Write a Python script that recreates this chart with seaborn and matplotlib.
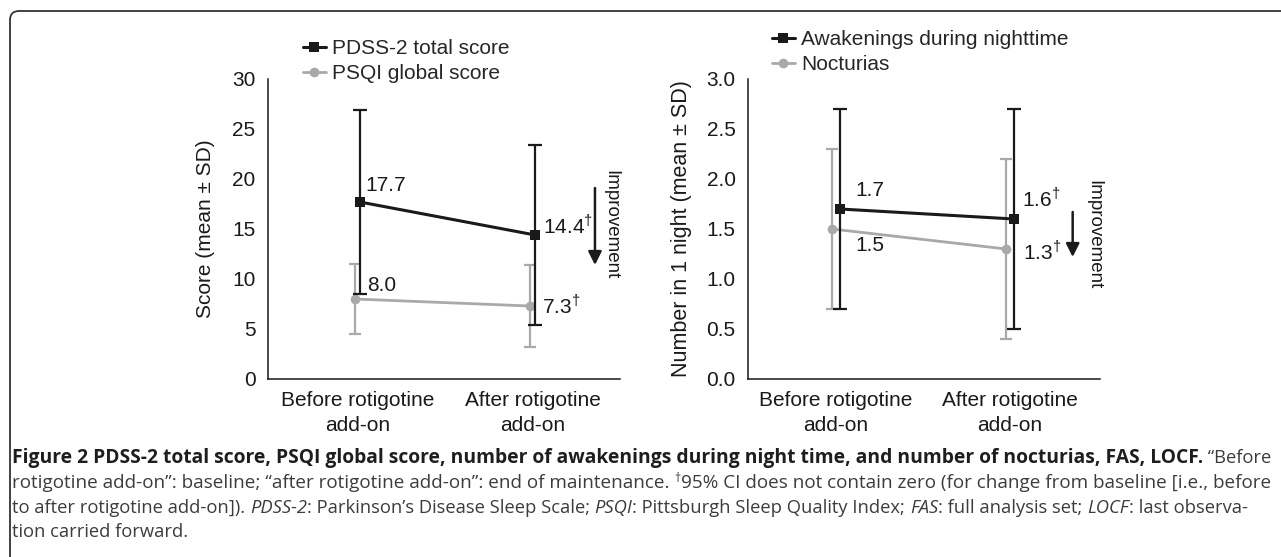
import numpy as np
import pandas as pd
import seaborn as sns
import matplotlib.pyplot as plt
from matplotlib.path import Path
from matplotlib.patches import PathPatch
from matplotlib.lines import Line2D

#----------------------------------------------------------
# Data
#----------------------------------------------------------
timepoints = ["Before rotigotine\nadd-on", "After rotigotine\nadd-on"]

pdss_mean = [17.7, 14.4]
pdss_sd = [9.2, 9.0]
psqi_mean = [8.0, 7.3]
psqi_sd = [3.5, 4.1]

awake_mean = [1.7, 1.6]
awake_sd = [1.0, 1.1]
noct_mean = [1.5, 1.3]
noct_sd = [0.8, 0.9]

left_labels = ["17.7", "14.4$^{\\dagger}$", "8.0", "7.3$^{\\dagger}$"]
right_labels = ["1.7", "1.6$^{\\dagger}$", "1.5", "1.3$^{\\dagger}$"]

BLACK = "#1a1a1a"
GREY = "#a9a9a9"

W, H = 1281, 557


def px(x, y):
    # figure pixel (from top-left) -> figure fraction
    return x / W, 1 - y / H


def draw_panel(ax, black_mean, black_sd, grey_mean, grey_sd, names, off):
    df = pd.DataFrame({
        "x": [i + off for i in range(2)] + [i - off for i in range(2)],
        "value": black_mean + grey_mean,
        "series": [names[0]] * 2 + [names[1]] * 2,
    })
    # grey series first so the black one sits on top
    sns.lineplot(data=df[df.series == names[1]], x="x", y="value", color=GREY,
                 marker="o", markersize=7, markeredgewidth=0, linewidth=2.0, ax=ax)
    ax.errorbar(df.x[df.series == names[1]], grey_mean, yerr=grey_sd, fmt="none",
                ecolor=GREY, elinewidth=1.6, capsize=4.5, capthick=1.6)
    sns.lineplot(data=df[df.series == names[0]], x="x", y="value", color=BLACK,
                 marker="s", markersize=7.5, markeredgewidth=0, linewidth=2.2, ax=ax)
    ax.errorbar(df.x[df.series == names[0]], black_mean, yerr=black_sd, fmt="none",
                ecolor=BLACK, elinewidth=1.6, capsize=4.8, capthick=1.6)

    ax.set_xticks([0, 1])
    ax.set_xticklabels(timepoints, linespacing=1.35)
    ax.set_xlabel("")
    for s in ["top", "right"]:
        ax.spines[s].set_visible(False)
    for s in ["left", "bottom"]:
        ax.spines[s].set_color(BLACK)
        ax.spines[s].set_linewidth(1.1)
    ax.tick_params(axis="both", direction="out", length=5, width=1.1, color=BLACK,
                   labelsize=15, labelcolor=BLACK, pad=4)


def main():
    sns.set_style("white")
    plt.rcParams["font.family"] = ["Liberation Sans", "DejaVu Sans"]
    plt.rcParams["mathtext.fontset"] = "custom"
    plt.rcParams["mathtext.rm"] = "Liberation Sans"

    fig = plt.figure(figsize=(W / 100, H / 100), dpi=100)
    fig.patch.set_facecolor("white")

    ax1 = fig.add_axes([268 / W, 1 - 379 / H, 352 / W, 300 / H])
    ax2 = fig.add_axes([748 / W, 1 - 379 / H, 352 / W, 300 / H])

    #------------------------------------------------------
    # Left panel : PDSS-2 / PSQI
    #------------------------------------------------------
    draw_panel(ax1, pdss_mean, pdss_sd, psqi_mean, psqi_sd,
               ["PDSS-2 total score", "PSQI global score"], 0.015)
    ax1.set_ylim(0, 30)
    ax1.set_yticks(range(0, 31, 5))
    ax1.set_xlim(-0.51, 1.5)
    ax1.set_ylabel("Score (mean ± SD)", fontsize=15, color=BLACK, labelpad=12)

    pts = [(0.015, pdss_mean[0]), (1.015, pdss_mean[1]),
           (-0.015, psqi_mean[0]), (0.985, psqi_mean[1])]
    offs = [(4, 12), (6, 7), (9, 10), (9, 0)]
    for lab, p, o in zip(left_labels, pts, offs):
        ax1.annotate(lab, p, xytext=o, textcoords="offset points",
                     ha="left", va="center", fontsize=15, color=BLACK)

    ax1.annotate("", xy=(1.357, 11.4), xytext=(1.357, 19.1),
                 arrowprops=dict(arrowstyle="-|>", lw=1.8, color=BLACK,
                                 mutation_scale=20, shrinkA=0, shrinkB=0))
    ax1.text(1.45, 15.4, "Improvement", rotation=-90, ha="center", va="center",
             fontsize=13.5, color=BLACK)

    #------------------------------------------------------
    # Right panel : awakenings / nocturias
    #------------------------------------------------------
    draw_panel(ax2, awake_mean, awake_sd, noct_mean, noct_sd,
               ["Awakenings during nighttime", "Nocturias"], 0.023)
    ax2.set_ylim(0, 3)
    ax2.set_yticks(np.arange(0, 3.01, 0.5))
    ax2.set_yticklabels([f"{v:.1f}" for v in np.arange(0, 3.01, 0.5)])
    ax2.set_xlim(-0.506, 1.517)
    ax2.set_ylabel("Number in 1 night (mean ± SD)", fontsize=15.5, color=BLACK, labelpad=10)

    pts = [(0.023, awake_mean[0]), (1.023, awake_mean[1]),
           (-0.023, noct_mean[0]), (0.977, noct_mean[1])]
    offs = [(11, 13), (6, 15), (17, -12), (12, -2)]
    for lab, p, o in zip(right_labels, pts, offs):
        ax2.annotate(lab, p, xytext=o, textcoords="offset points",
                     ha="left", va="center", fontsize=15, color=BLACK)

    ax2.annotate("", xy=(1.36, 1.22), xytext=(1.36, 1.67),
                 arrowprops=dict(arrowstyle="-|>", lw=1.8, color=BLACK,
                                 mutation_scale=20, shrinkA=0, shrinkB=0))
    ax2.text(1.48, 1.44, "Improvement", rotation=-90, ha="center", va="center",
             fontsize=13.5, color=BLACK)

    #------------------------------------------------------
    # Legends
    #------------------------------------------------------
    def handles(names):
        return [Line2D([], [], color=BLACK, marker="s", markersize=7.5, lw=2.2,
                       markeredgewidth=0, label=names[0]),
                Line2D([], [], color=GREY, marker="o", markersize=7, lw=2.0,
                       markeredgewidth=0, label=names[1])]

    leg_kw = dict(loc="center left", frameon=False, fontsize=15, handlelength=1.1,
                  handletextpad=0.3, labelspacing=0.3, borderpad=0, borderaxespad=0)
    fig.legend(handles=handles(["PDSS-2 total score", "PSQI global score"]),
               bbox_to_anchor=px(303, 61), **leg_kw)
    fig.legend(handles=handles(["Awakenings during nighttime", "Nocturias"]),
               bbox_to_anchor=px(772, 52), **leg_kw)

    #------------------------------------------------------
    # Frame (top and left edges with rounded corner)
    #------------------------------------------------------
    verts = [px(W, 11), px(19, 11), px(10, 11), px(10, 20), px(10, H)]
    codes = [Path.MOVETO, Path.LINETO, Path.CURVE3, Path.CURVE3, Path.LINETO]
    fig.add_artist(PathPatch(Path(verts, codes), transform=fig.transFigure,
                             fill=False, edgecolor="#333333", lw=1.3))

    #------------------------------------------------------
    # Caption
    #------------------------------------------------------
    cap_font = ["Open Sans", "DejaVu Sans"]
    bold_txt = ("Figure 2 PDSS-2 total score, PSQI global score, number of awakenings "
                "during night time, and number of nocturias, FAS, LOCF.")
    cap_lines = [
        [(bold_txt, "bold", "normal", 1.0),
         (" \u201cBefore", "normal", "normal", 1.0)],
        [("rotigotine add-on\u201d: baseline; \u201cafter rotigotine add-on\u201d: end of maintenance. ",
          "normal", "normal", 1.0),
         ("\u2020", "normal", "normal", 0.65),
         ("95% CI does not contain zero (for change from baseline [i.e., before", "normal", "normal", 1.0)],
        [("to after rotigotine add-on]). ", "normal", "normal", 1.0),
         ("PDSS-2", "normal", "italic", 1.0),
         (": Parkinson\u2019s Disease Sleep Scale; ", "normal", "normal", 1.0),
         ("PSQI", "normal", "italic", 1.0),
         (": Pittsburgh Sleep Quality Index; ", "normal", "normal", 1.0),
         ("FAS", "normal", "italic", 1.0),
         (": full analysis set; ", "normal", "normal", 1.0),
         ("LOCF", "normal", "italic", 1.0),
         (": last observa-", "normal", "normal", 1.0)],
        [("tion carried forward.", "normal", "normal", 1.0)],
    ]
    line_y = [458, 483, 508, 532]
    line_end = [1266, 1266, 1240]
    x0 = 12

    renderer = fig.canvas.get_renderer()

    def draw_line(segs, y, reg, bold, draw=True):
        x = x0
        arts = []
        for txt, weight, style, scale in segs:
            dy = 5 if scale < 1 else 0
            size = (bold if weight == "bold" else reg) * scale
            t = fig.text(x / W, 1 - (y - dy) / H, txt, fontsize=size,
                         family=cap_font, weight=weight, style=style,
                         color="#1e1e1e" if weight == "bold" else "#3c3c3c",
                         ha="left", va="center")
            x += t.get_window_extent(renderer).width
            arts.append(t)
        if not draw:
            for t in arts:
                t.remove()
        return x

    # regular size fitted to lines 2 and 3, bold size to line 1
    base = 12.0
    reg2 = base * (line_end[1] - x0) / (draw_line(cap_lines[1], 0, base, base, False) - x0)
    reg3 = base * (line_end[2] - x0) / (draw_line(cap_lines[2], 0, base, base, False) - x0)
    reg = min(reg2, reg3)
    tail = draw_line(cap_lines[0][1:], 0, reg, reg, False) - x0
    bold_w = draw_line(cap_lines[0][:1], 0, base, base, False) - x0
    bold = base * (line_end[0] - x0 - tail) / bold_w

    draw_line(cap_lines[0], line_y[0], reg, bold)
    draw_line(cap_lines[1], line_y[1], reg2, reg2)
    draw_line(cap_lines[2], line_y[2], reg3, reg3)
    draw_line(cap_lines[3], line_y[3], reg3, reg3)

    fig.savefig("out.png", dpi=100, facecolor="white")


if __name__ == "__main__":
    main()
